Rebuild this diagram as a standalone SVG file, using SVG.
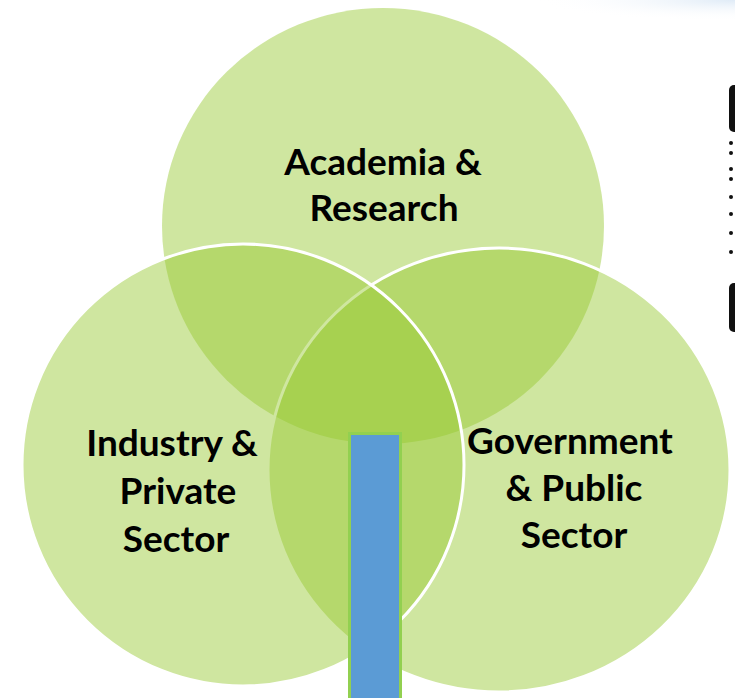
<svg xmlns="http://www.w3.org/2000/svg" width="735" height="698" viewBox="0 0 735 698">
  <defs>
    <radialGradient id="haze" cx="1" cy="0" r="1" gradientTransform="translate(0.0 0) scale(1 0.35)">
      <stop offset="0" stop-color="#dce9f6" stop-opacity="0.9"/>
      <stop offset="1" stop-color="#ffffff" stop-opacity="0"/>
    </radialGradient>
    <style>
      .set { fill: #96c830; fill-opacity: 0.46; }
      .rim { stroke: #ffffff; stroke-width: 3; }
      .label { font-family: Lato, "Open Sans", "Liberation Sans", sans-serif; font-weight: 700; font-size: 37px; fill: #000000; text-anchor: middle; }
      .edge { fill: #111111; }
      .dot { fill: #111111; }
    </style>
  </defs>

  <rect width="735" height="698" fill="#ffffff"/>
  <rect x="535" y="0" width="200" height="60" fill="url(#haze)"/>

  <!-- partly visible panel at the right margin -->
  <g id="side-panel">
    <rect class="edge" x="729" y="85" width="14" height="47" rx="5"/>
    <circle class="dot" cx="731" cy="143" r="2"/>
    <circle class="dot" cx="731" cy="153" r="2"/>
    <circle class="dot" cx="731" cy="169" r="2"/>
    <circle class="dot" cx="731" cy="179" r="2"/>
    <circle class="dot" cx="731" cy="197" r="2"/>
    <circle class="dot" cx="731" cy="214" r="2"/>
    <circle class="dot" cx="731" cy="233" r="2"/>
    <circle class="dot" cx="731" cy="252" r="2"/>
    <rect class="edge" x="729" y="283" width="14" height="49" rx="5"/>
  </g>

  <g id="academia">
    <ellipse class="set" cx="383" cy="226" rx="221" ry="218"/>
    <text class="label" x="383" y="175">Academia &amp;</text>
    <text class="label" x="384" y="221">Research</text>
  </g>

  <g id="government">
    <ellipse class="set rim" cx="499" cy="470" rx="231" ry="222"/>
    <text class="label" x="570" y="454">Government</text>
    <text class="label" x="574" y="501">&amp; Public</text>
    <text class="label" x="574" y="548">Sector</text>
  </g>

  <g id="industry">
    <circle class="set rim" cx="243" cy="465" r="221"/>
    <text class="label" x="172" y="456">Industry &amp;</text>
    <text class="label" x="178" y="504">Private</text>
    <text class="label" x="176" y="552">Sector</text>
  </g>

  <g id="connectors">
    <rect id="pillar" x="349.5" y="433.5" width="51" height="270" fill="#5b9bd5" stroke="#92d050" stroke-width="3"/>
  </g>
</svg>
